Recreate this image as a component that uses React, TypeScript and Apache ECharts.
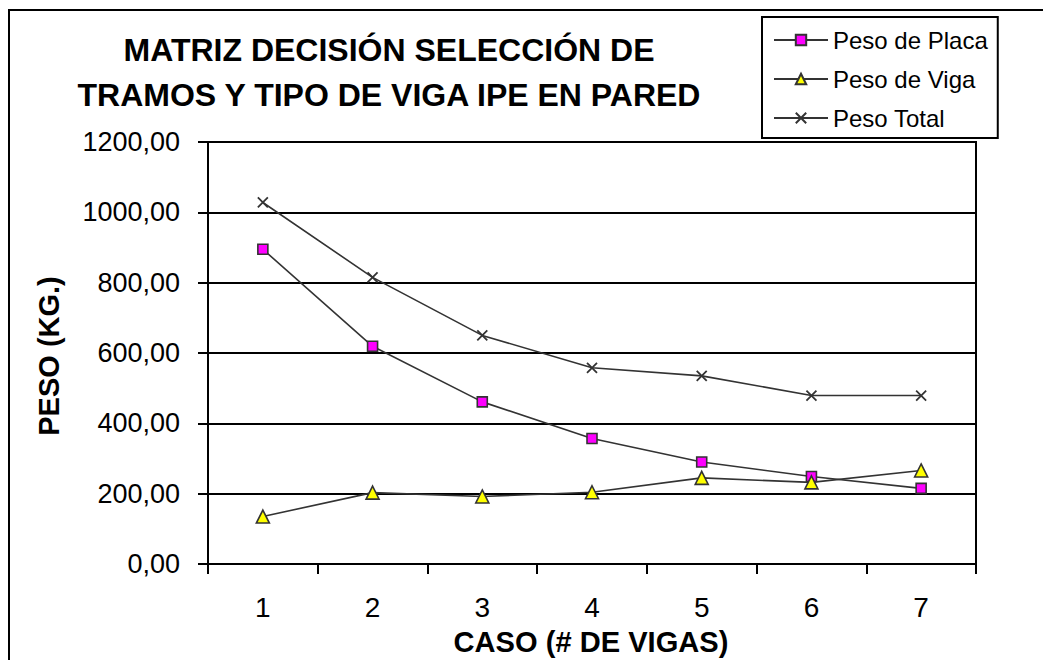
import React, { useEffect, useRef } from "react";
import * as echarts from "echarts";

// Cases (number of beams)
const casos = ["1", "2", "3", "4", "5", "6", "7"];
// Weights in kg
const pesoPlaca = [895, 619, 461, 357, 290, 249, 215];
const pesoViga = [135, 203, 192, 204, 245, 232, 266];
const pesoTotal = [1028, 815, 650, 558, 535, 479, 479];
const seriesNames = ["Peso de Placa", "Peso de Viga", "Peso Total"];

const titleLines = ["MATRIZ DECISIÓN SELECCIÓN DE", "TRAMOS Y TIPO DE VIGA IPE EN PARED"];
const yAxisTitle = "PESO (KG.)";
const xAxisTitle = "CASO (# DE VIGAS)";

const FONT = "Arial, 'Liberation Sans', sans-serif";
const LINE = "#333333";

export default function App() {
  const ref = useRef<HTMLDivElement>(null);

  useEffect(() => {
    if (!ref.current) return;
    const chart = echarts.init(ref.current, null, { renderer: "svg" });
    const lineStyle = { color: LINE, width: 1.6 };
    chart.setOption({
      animation: false,
      backgroundColor: "#ffffff",
      textStyle: { fontFamily: FONT },
      grid: {
        left: 208,
        right: 67,
        top: 142,
        bottom: 96,
        show: true,
        borderColor: "#000",
        borderWidth: 2,
        backgroundColor: "transparent",
      },
      legend: {
        orient: "vertical",
        left: 762,
        top: 17,
        padding: [11, 10, 8, 11],
        itemGap: 15,
        itemWidth: 54,
        itemHeight: 13,
        backgroundColor: "#fff",
        borderColor: "#000",
        borderWidth: 2,
        textStyle: { fontSize: 24, color: "#000", fontFamily: FONT },
        data: seriesNames,
      },
      xAxis: {
        type: "category",
        data: casos,
        boundaryGap: true,
        axisLine: { show: true, lineStyle: { color: "#000", width: 2 } },
        axisTick: { show: true, length: 10, alignWithLabel: false, lineStyle: { color: "#000", width: 2 } },
        axisLabel: { fontSize: 28, color: "#000", margin: 29, fontFamily: FONT },
        splitLine: { show: false },
      },
      yAxis: {
        type: "value",
        min: 0,
        max: 1200,
        interval: 200,
        axisLine: { show: true, lineStyle: { color: "#000", width: 2 } },
        axisTick: { show: true, length: 10, lineStyle: { color: "#000", width: 2 } },
        axisLabel: {
          fontSize: 27,
          color: "#000",
          margin: 28,
          fontFamily: FONT,
          formatter: (v: number) => v.toFixed(2).replace(".", ","),
        },
        splitLine: { show: true, lineStyle: { color: "#000", width: 2 } },
      },
      series: [
        {
          name: seriesNames[0],
          type: "line",
          data: pesoPlaca,
          symbol: "rect",
          symbolSize: 10,
          lineStyle,
          itemStyle: { color: "#FF00FF", borderColor: LINE, borderWidth: 1.6 },
        },
        {
          name: seriesNames[1],
          type: "line",
          data: pesoViga,
          symbol: "triangle",
          symbolSize: 13,
          lineStyle,
          itemStyle: { color: "#FFFF00", borderColor: LINE, borderWidth: 1.6 },
        },
        {
          name: seriesNames[2],
          type: "line",
          data: pesoTotal,
          symbol: "path://M0,0L10,10M10,0L0,10",
          symbolSize: 10,
          lineStyle,
          itemStyle: { color: LINE, borderColor: LINE, borderWidth: 1.8 },
        },
      ],
      graphic: [
        {
          type: "rect",
          shape: { x: 9, y: 10, width: 1100, height: 720 },
          style: { fill: "none", stroke: "#000", lineWidth: 2 },
          silent: true,
          z: -1,
        },
        {
          type: "text",
          x: 389,
          y: 50,
          style: {
            text: titleLines[0],
            font: `bold 32px ${FONT}`,
            fill: "#000",
            align: "center",
            verticalAlign: "middle",
          },
        },
        {
          type: "text",
          x: 389,
          y: 95,
          style: {
            text: titleLines[1],
            font: `bold 32px ${FONT}`,
            fill: "#000",
            align: "center",
            verticalAlign: "middle",
          },
        },
        {
          type: "text",
          x: 49,
          y: 356,
          rotation: Math.PI / 2,
          style: {
            text: yAxisTitle,
            font: `bold 29px ${FONT}`,
            fill: "#000",
            align: "center",
            verticalAlign: "middle",
          },
        },
        {
          type: "text",
          x: 591,
          y: 641,
          scaleX: 0.97,
          style: {
            text: xAxisTitle,
            font: `bold 30px ${FONT}`,
            fill: "#000",
            align: "center",
            verticalAlign: "middle",
          },
        },
      ],
    });
    return () => chart.dispose();
  }, []);

  return (
    <div
      ref={ref}
      style={{ position: "absolute", left: 0, top: 0, width: 1043, height: 660, background: "#fff" }}
    />
  );
}
